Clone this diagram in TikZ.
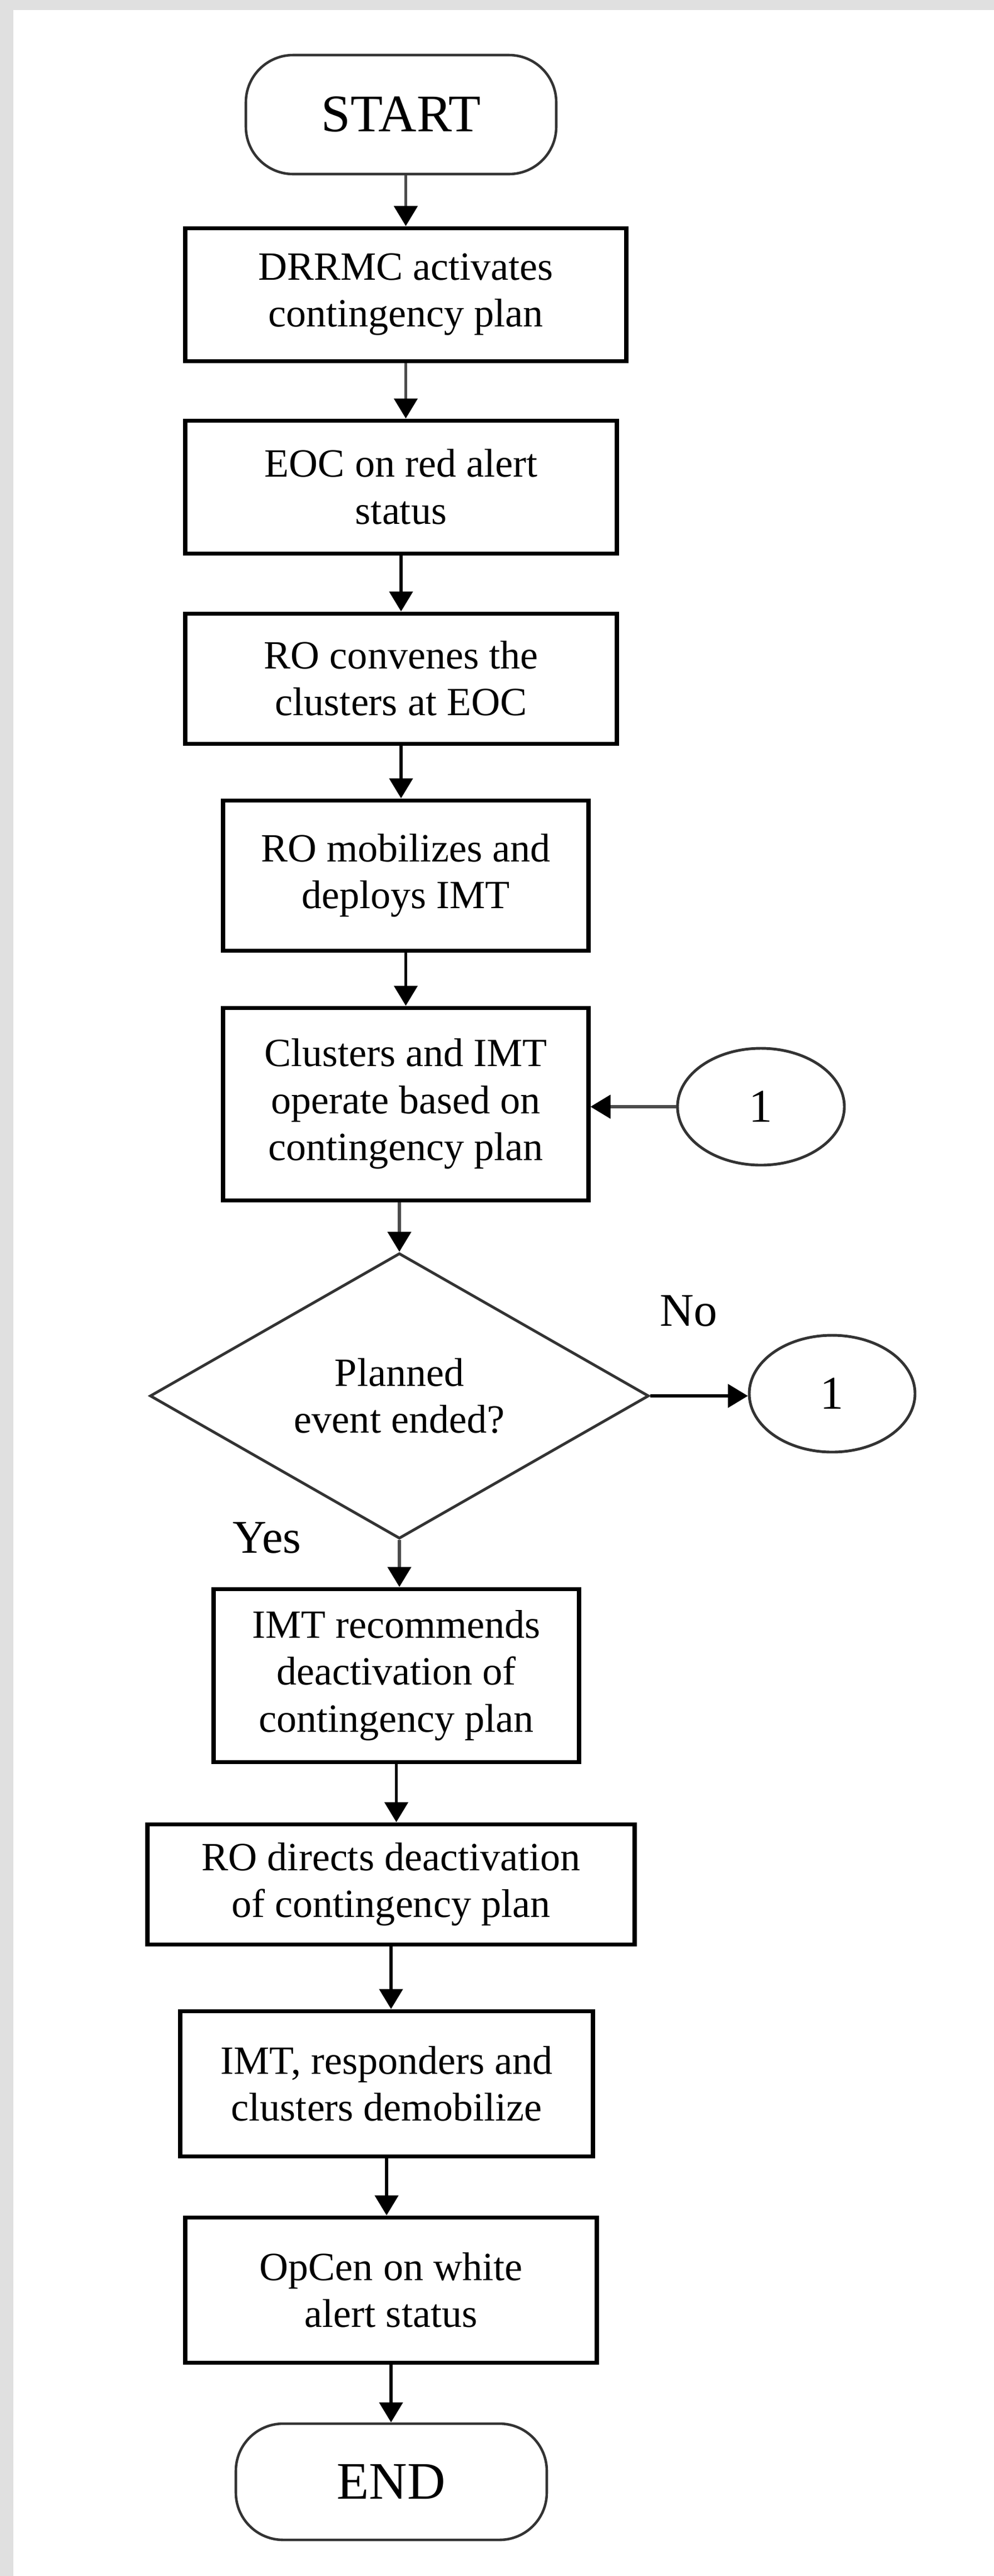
\documentclass[tikz,border=0pt]{standalone}
\usepackage{fontspec}
\setmainfont{Liberation Serif}
\usetikzlibrary{shapes.geometric,arrows.meta}
\begin{document}
\begin{tikzpicture}[
  box/.style={draw=black,line width=2pt,fill=white,inner sep=0pt,align=center,font=\fontsize{20.5}{24}\selectfont},
  term/.style={draw=black!80,line width=1.3pt,fill=white,rounded corners=0.85cm,inner sep=0pt,font=\fontsize{27}{30}\selectfont},
  conn/.style={ellipse,draw=black!80,line width=1.4pt,fill=white,inner sep=0pt,font=\fontsize{24}{28}\selectfont},
  dec/.style={diamond,draw=black!80,line width=1.4pt,fill=white,inner sep=0pt,align=center,font=\fontsize{20.5}{24}\selectfont},
  lbl/.style={inner sep=0pt,font=\fontsize{24}{28}\selectfont},
  arr/.style={line width=1.5pt,draw=black,-{Triangle[width=0.42cm,length=0.36cm,color=black]}},
  garr/.style={arr,draw=black!70},
]
% background and page
\fill[black!12] (0,0) rectangle (17.87,-46.32);
\fill[white] (0.24,-0.18) rectangle (17.87,-46.32);
\useasboundingbox (0,0) rectangle (17.87,-46.32);

\node[term,minimum width=5.58cm,minimum height=2.14cm] (start) at (7.21,-2.06) {START};
\node[box,minimum width=7.93cm,minimum height=2.39cm] (b1) at (7.295,-5.295) {DRRMC activates\\contingency plan};
\node[box,minimum width=7.76cm,minimum height=2.39cm] (b2) at (7.21,-8.755) {EOC on red alert\\status};
\node[box,minimum width=7.76cm,minimum height=2.34cm] (b3) at (7.21,-12.20) {RO convenes the\\clusters at EOC};
\node[box,minimum width=6.57cm,minimum height=2.70cm] (b4) at (7.295,-15.74) {RO mobilizes and\\deploys IMT};
\node[box,minimum width=6.57cm,minimum height=3.46cm] (b5) at (7.295,-19.85) {Clusters and IMT\\operate based on\\contingency plan};
\node[conn,minimum width=3.00cm,minimum height=2.10cm] (ca) at (13.68,-19.90) {1};
\node[dec,minimum width=8.97cm,minimum height=4.87cm] (d) at (7.18,-25.10) {Planned\\event ended?};
\node[conn,minimum width=2.98cm,minimum height=2.10cm] (cb) at (14.96,-25.06) {1};
\node[lbl] (no) at (12.38,-23.57) {No};
\node[lbl] (yes) at (4.80,-27.65) {Yes};
\node[box,minimum width=6.57cm,minimum height=3.11cm] (b6) at (7.125,-30.125) {IMT recommends\\deactivation of\\contingency plan};
\node[box,minimum width=8.76cm,minimum height=2.16cm] (b7) at (7.03,-33.88) {RO directs deactivation\\of contingency plan};
\node[box,minimum width=7.42cm,minimum height=2.61cm] (b8) at (6.95,-37.465) {IMT, responders and\\clusters demobilize};
\node[box,minimum width=7.40cm,minimum height=2.61cm] (b9) at (7.03,-41.175) {OpCen on white\\alert status};
\node[term,minimum width=5.59cm,minimum height=2.09cm] (end) at (7.035,-44.625) {END};

\draw[garr] (start.south -| b1.north) -- (b1.north);
\draw[garr] (b1.south) -- (b1.south |- b2.north);
\draw[arr] (b2.south) -- (b2.south |- b3.north);
\draw[arr] (b3.south) -- (b3.south |- b4.north);
\draw[arr] (b4.south) -- (b4.south |- b5.north);
\draw[garr] (b5.south -| d.north) -- (d.north);
\draw[garr] (ca.west) -- (ca.west -| b5.east);
\draw[arr] (d.east) -- (d.east -| cb.west);
\draw[garr] (d.south) -- (d.south |- b6.north);
\draw[arr] (b6.south) -- (b6.south |- b7.north);
\draw[arr] (b7.south) -- (b7.south |- b8.north);
\draw[arr] (b8.south) -- (b8.south |- b9.north);
\draw[arr] (b9.south) -- (b9.south |- end.north);
\end{tikzpicture}
\end{document}
